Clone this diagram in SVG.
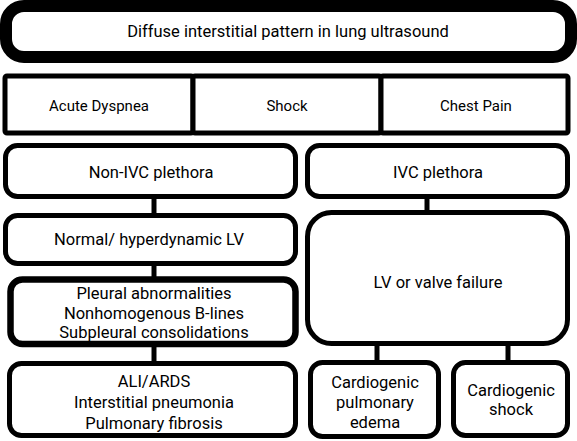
<svg xmlns="http://www.w3.org/2000/svg" width="577" height="441" viewBox="0 0 577 441">
<style>
.bg{fill:#fff}
.n{fill:#fff;stroke:#000;stroke-width:5}
.t{font-family:Roboto,"Noto Sans","DejaVu Sans",sans-serif;font-size:16.5px;fill:#000;text-anchor:middle}
.c{stroke:#000;stroke-width:5;fill:none}
</style>
<rect class="bg" x="0" y="0" width="577" height="441"/>
<g id="title">
<rect x="6" y="6" width="565" height="51" rx="18" fill="#fff" stroke="#000" stroke-width="12"/>
<text class="t" x="288" y="37" style="font-size:16.5px">Diffuse interstitial pattern in lung ultrasound</text>
</g>
<g id="acute-dyspnea">
<rect class="n" x="5" y="76" width="188" height="57" rx="2"/>
<text class="t" x="99" y="111" style="font-size:15px">Acute Dyspnea</text>
</g>
<g id="shock">
<rect class="n" x="193" y="76" width="188" height="57" rx="2"/>
<text class="t" x="287" y="111" style="font-size:15px">Shock</text>
</g>
<g id="chest-pain">
<rect class="n" x="381" y="76" width="187" height="57" rx="2"/>
<text class="t" x="476" y="111" style="font-size:15px">Chest Pain</text>
</g>
<g id="connectors">
<line class="c" x1="154" y1="197" x2="154" y2="214"/>
<line class="c" x1="154" y1="266" x2="154" y2="278"/>
<line class="c" x1="154" y1="345" x2="154" y2="362"/>
<line class="c" x1="427" y1="197" x2="427" y2="212"/>
<line class="c" x1="377" y1="343" x2="377" y2="362"/>
<line class="c" x1="508" y1="343" x2="508" y2="362"/>
</g>
<g id="non-ivc">
<rect class="n" x="5.5" y="145.5" width="290" height="51" rx="12"/>
<text class="t" x="151" y="178">Non-IVC plethora</text>
</g>
<g id="ivc">
<rect class="n" x="307.5" y="145.5" width="260" height="51" rx="12"/>
<text class="t" x="438" y="178">IVC plethora</text>
</g>
<g id="normal-lv">
<rect class="n" x="5.5" y="215.5" width="290" height="48" rx="12"/>
<text class="t" x="149" y="245">Normal/ hyperdynamic LV</text>
</g>
<g id="lv-failure">
<rect class="n" x="307.5" y="212.5" width="260" height="131" rx="24"/>
<text class="t" x="438" y="288">LV or valve failure</text>
</g>
<g id="pleural">
<rect x="10.5" y="279.5" width="285" height="64.5" rx="12" fill="#fff" stroke="#000" stroke-width="6.5"/>
<text class="t" x="154" y="299">Pleural abnormalities</text>
<text class="t" x="154" y="318.5">Nonhomogenous B-lines</text>
<text class="t" x="154" y="338">Subpleural consolidations</text>
</g>
<g id="ali">
<rect class="n" x="9.5" y="363.5" width="286" height="72" rx="12"/>
<text class="t" x="154" y="387">ALI/ARDS</text>
<text class="t" x="154" y="408">Interstitial pneumonia</text>
<text class="t" x="154" y="429">Pulmonary fibrosis</text>
</g>
<g id="cardio-edema">
<rect class="n" x="310.5" y="362.5" width="128" height="74" rx="12"/>
<text class="t" x="375" y="388">Cardiogenic</text>
<text class="t" x="375" y="408">pulmonary</text>
<text class="t" x="375" y="427.5">edema</text>
</g>
<g id="cardio-shock">
<rect class="n" x="453.5" y="362.5" width="114" height="73" rx="12"/>
<text class="t" x="511" y="396">Cardiogenic</text>
<text class="t" x="511" y="415">shock</text>
</g>
</svg>
